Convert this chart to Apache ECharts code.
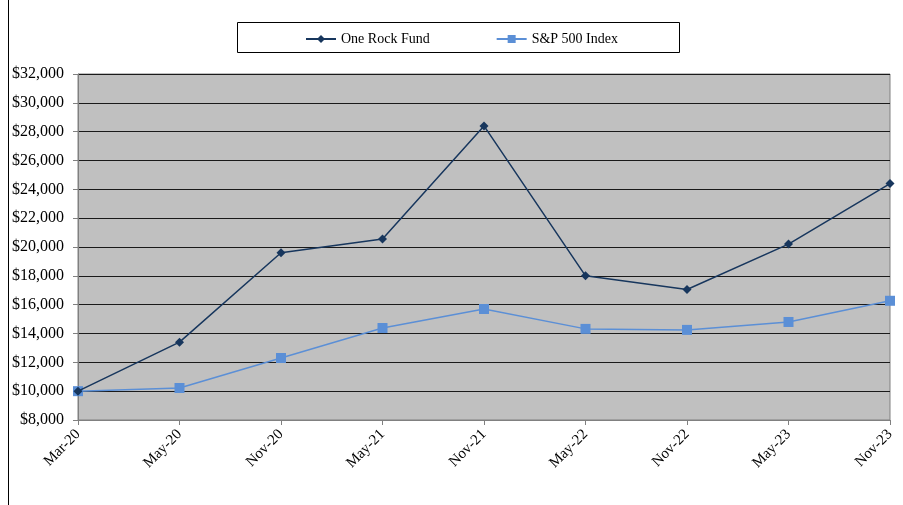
<!DOCTYPE html>
<html>
<head>
<meta charset="utf-8">
<script src="https://cdn.jsdelivr.net/npm/echarts@6/dist/echarts.min.js"></script>
<style>
  html, body { margin: 0; padding: 0; background: #fff; }
  #chart { width: 903px; height: 505px; }
</style>
</head>
<body>
<div id="chart"></div>
<script>
const categories = ['Mar-20', 'May-20', 'Nov-20', 'May-21', 'Nov-21', 'May-22', 'Nov-22', 'May-23', 'Nov-23'];
const fundValues = [10000, 13400, 19600, 20550, 28400, 18000, 17050, 20200, 24400];
const indexValues = [10000, 10220, 12300, 14380, 15700, 14320, 14250, 14800, 16270];

const serif = '"Liberation Serif", "DejaVu Serif", serif';

const chart = echarts.init(document.getElementById('chart'));

chart.setOption({
  animation: false,
  textStyle: { fontFamily: serif },
  graphic: [
    {
      type: 'line',
      shape: { x1: 8.5, y1: 0, x2: 8.5, y2: 505 },
      style: { stroke: '#000', lineWidth: 1 }
    },
    {
      type: 'rect',
      shape: { x: 237.5, y: 22.5, width: 442, height: 30 },
      style: { fill: '#fff', stroke: '#000', lineWidth: 1 },
      z: 0
    }
  ],
  legend: {
    top: 27,
    left: 300,
    itemGap: 66,
    itemWidth: 30,
    itemHeight: 10,
    textStyle: { fontFamily: serif, fontSize: 14, color: '#000' },
    data: ['One Rock Fund', 'S&P 500 Index']
  },
  grid: {
    left: 78,
    right: 13,
    top: 74,
    bottom: 85,
    show: true,
    backgroundColor: '#c0c0c0',
    borderColor: '#808080',
    borderWidth: 1
  },
  xAxis: {
    type: 'category',
    data: categories,
    boundaryGap: false,
    axisLine: { lineStyle: { color: '#808080', width: 1 } },
    axisTick: { show: true, length: 5, lineStyle: { color: '#808080' } },
    axisLabel: {
      rotate: 45,
      color: '#000',
      fontFamily: serif,
      fontSize: 15,
      margin: 12
    },
    splitLine: { show: false }
  },
  yAxis: {
    type: 'value',
    min: 8000,
    max: 32000,
    interval: 2000,
    axisLine: { show: true, lineStyle: { color: '#808080', width: 1 } },
    axisTick: { show: true, length: 5, lineStyle: { color: '#808080' } },
    axisLabel: {
      color: '#000',
      fontFamily: serif,
      fontSize: 16,
      margin: 14,
      formatter: v => '$' + v.toLocaleString('en-US')
    },
    splitLine: { show: true, lineStyle: { color: '#1a1a1a', width: 1 } }
  },
  series: [
    {
      name: 'One Rock Fund',
      type: 'line',
      data: fundValues,
      symbol: 'diamond',
      symbolSize: 9,
      color: '#17365d',
      lineStyle: { width: 1.5, color: '#17365d' },
      itemStyle: { color: '#17365d' },
      z: 3
    },
    {
      name: 'S&P 500 Index',
      type: 'line',
      data: indexValues,
      symbol: 'rect',
      symbolSize: 10,
      color: '#5b8fd6',
      lineStyle: { width: 1.5, color: '#5b8fd6' },
      itemStyle: { color: '#5b8fd6' },
      z: 2
    }
  ]
});
</script>
</body>
</html>
